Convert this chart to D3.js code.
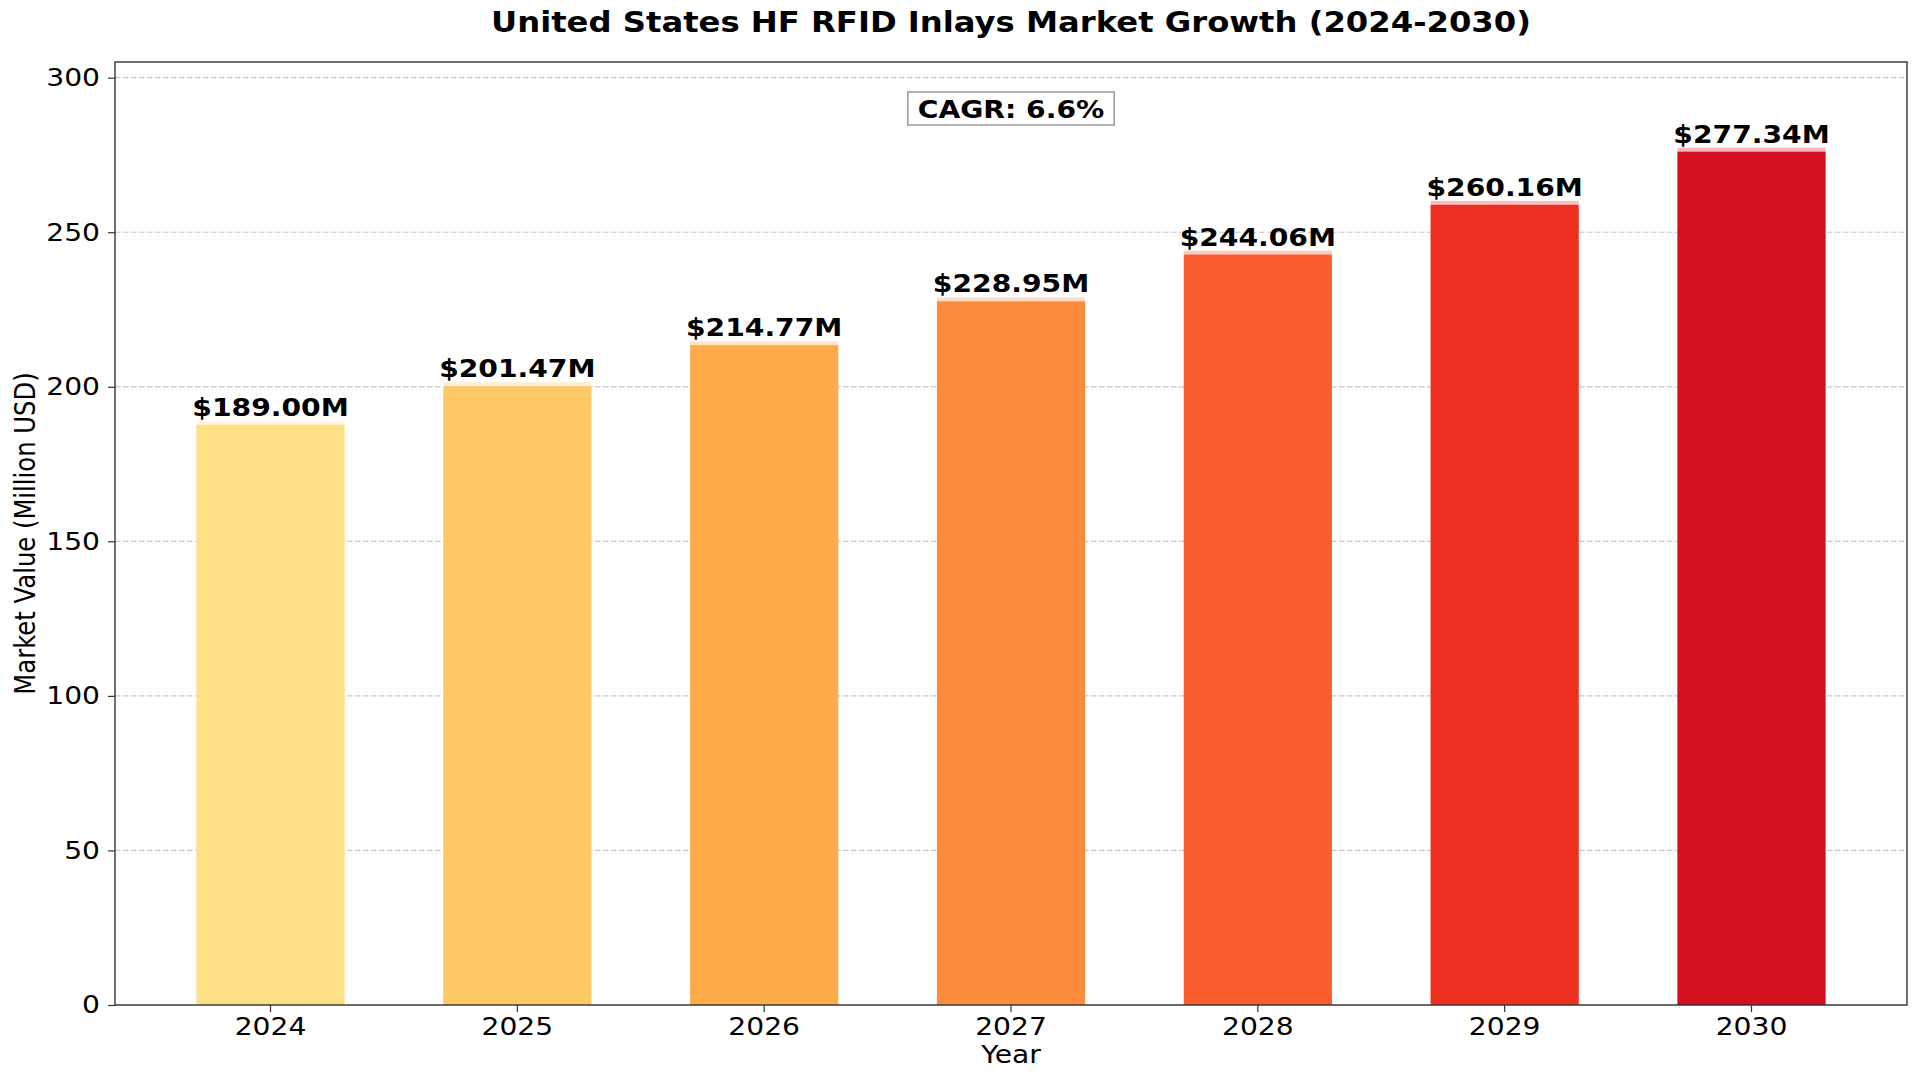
<!DOCTYPE html>
<html>
<head>
<meta charset="utf-8">
<script src="https://cdn.jsdelivr.net/npm/d3@7/dist/d3.min.js"></script>
<style>
html,body{margin:0;padding:0;background:#fff;}
svg{display:block;}
text{font-family:"DejaVu Sans",sans-serif;}
</style>
</head>
<body>
<svg id="chart" width="1920" height="1080"></svg>
<script>
const years = ["2024","2025","2026","2027","2028","2029","2030"];
const values = [189.00, 201.47, 214.77, 228.95, 244.06, 260.16, 277.34];
const colors = ["#FEE187","#FEC965","#FEAB49","#FD8D3C","#FC5B2E","#ED2F22","#D41020"];
const yTicks = [0, 50, 100, 150, 200, 250, 300];
const title = "United States HF RFID Inlays Market Growth (2024-2030)";
const cagrText = "CAGR: 6.6%";
const xLabel = "Year";
const yLabel = "Market Value (Million USD)";

const W = 1920, H = 1080;
const m = {left:115, right:13, top:62, bottom:75};
const SX = 1.16;      // horizontal glyph stretch seen in the reference
const FS = 24.3;      // base font size
const svg = d3.select("#chart");

const x = d3.scaleBand().domain(years).range([m.left, W - m.right]).paddingInner(0.4).paddingOuter(0.33);
const y = d3.scaleLinear().domain([0, d3.max(values) * 1.1]).range([H - m.bottom, m.top]);

function stretchAnchored(sel) {
  sel.each(function () {
    const t = d3.select(this);
    const x0 = +t.attr("x") || 0;
    t.attr("transform", `translate(${x0 * (1 - SX)},0) scale(${SX},1)`);
  });
}
function addText(px, py, str, size, weight, extraRot) {
  return svg.append("text")
    .attr("transform", `translate(${px},${py}) scale(${SX},1)` + (extraRot ? ` rotate(${extraRot})` : ""))
    .attr("text-anchor", "middle").attr("font-size", size)
    .attr("font-weight", weight || "normal").text(str);
}

// grid
svg.append("g").selectAll("line").data(yTicks).join("line")
  .attr("x1", m.left).attr("x2", W - m.right)
  .attr("y1", d => y(d)).attr("y2", d => y(d))
  .attr("stroke", "#c8c8c8").attr("stroke-width", 1.2)
  .attr("stroke-dasharray", "5.5,2.5");

// bars
const data = years.map((yr, i) => ({yr, v: values[i], c: colors[i]}));
const capPx = 4;
svg.append("g").selectAll("rect").data(data).join("rect")
  .attr("x", d => x(d.yr)).attr("width", x.bandwidth())
  .attr("y", d => y(d.v)).attr("height", d => y(0) - y(d.v))
  .attr("fill", d => d.c).attr("fill-opacity", 0.3);
svg.append("g").selectAll("rect").data(data).join("rect")
  .attr("x", d => x(d.yr)).attr("width", x.bandwidth())
  .attr("y", d => y(d.v) + capPx).attr("height", d => y(0) - y(d.v) - capPx)
  .attr("fill", d => d.c);

// value labels
data.forEach(d => {
  addText(x(d.yr) + x.bandwidth() / 2, y(d.v) - 5, "$" + d.v.toFixed(2) + "M", FS, "bold");
});

// axes
const xAxis = svg.append("g").attr("transform", `translate(0,${H - m.bottom})`)
  .call(d3.axisBottom(x).tickSizeInner(7).tickSizeOuter(0).tickPadding(6));
const yAxis = svg.append("g").attr("transform", `translate(${m.left},0)`)
  .call(d3.axisLeft(y).tickValues(yTicks).tickSizeInner(7).tickSizeOuter(0).tickPadding(8));
[xAxis, yAxis].forEach(g => {
  g.select(".domain").remove();
  g.selectAll(".tick line").attr("stroke", "#333").attr("stroke-width", 1.2);
  g.selectAll(".tick text").attr("font-family", "DejaVu Sans").attr("font-size", FS).attr("fill", "#000");
  stretchAnchored(g.selectAll(".tick text"));
});

// frame
svg.append("rect").attr("x", m.left).attr("y", m.top)
  .attr("width", W - m.left - m.right).attr("height", H - m.top - m.bottom)
  .attr("fill", "none").attr("stroke", "#333").attr("stroke-width", 1.4);

// title
const cx = (m.left + W - m.right) / 2;
addText(cx, 32, title, 27.8, "bold");

// CAGR box
const cagrY = 117.5;
const rectG = svg.append("g");
const ct = addText(cx, cagrY, cagrText, FS, "bold");
const bb = ct.node().getBBox();
const bw = bb.width * SX + 20, bh = 33;
rectG.append("rect").attr("x", cx - bw / 2).attr("y", 92)
  .attr("width", bw).attr("height", bh)
  .attr("fill", "#fff").attr("stroke", "#999").attr("stroke-width", 1.5);

// axis labels
addText(cx, 1063, xLabel, FS, "normal");
svg.append("text")
  .attr("transform", `translate(35,${(m.top + H - m.bottom) / 2}) scale(${SX},1) rotate(-90)`)
  .attr("text-anchor", "middle").attr("font-size", FS).text(yLabel);
</script>
</body>
</html>
